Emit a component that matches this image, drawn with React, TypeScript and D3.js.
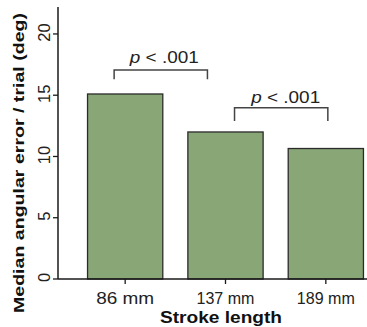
import React from "react";
import * as d3 from "d3";

const categories = ["86 mm", "137 mm", "189 mm"];
const values = [15.1, 12.0, 10.65];
const yTicks = [0, 5, 10, 15, 20];
const brackets = [
  { x1: -0.11, x2: 0.82, top: 17.05, bottom: 16.3, label: " < .001", textY: 17.6, textX: 0.39 },
  { x1: 1.09, x2: 2.02, top: 13.98, bottom: 12.9, label: " < .001", textY: 14.4, textX: 1.6 },
];
const xTitle = "Stroke length";
const yTitle = "Median angular error / trial (deg)";

const W = 367;
const H = 327;
const FONT = "'Liberation Sans', Arial, Helvetica, sans-serif";

export default function App() {
  const x = d3
    .scaleBand<string>()
    .domain(categories)
    .range([75, 376])
    .paddingInner(0.25)
    .paddingOuter(0.125);
  const y = d3.scaleLinear().domain([0, 22.2]).range([279, 7]);
  const step = x.step();
  const center0 = (x(categories[0]) as number) + x.bandwidth() / 2;
  const xi = d3.scaleLinear().domain([0, 1]).range([center0, center0 + step]);
  const axisLeft = 58;

  return (
    <svg
      width={W}
      height={H}
      style={{ position: "absolute", left: 0, top: 0, background: "#fff" }}
      fontFamily={FONT}
    >
      {/* bars */}
      {categories.map((c, i) => (
        <rect
          key={c}
          x={x(c)}
          y={y(values[i])}
          width={x.bandwidth()}
          height={y(0) - y(values[i])}
          fill="#89a676"
          stroke="#2b2b2b"
          strokeWidth={1.3}
        />
      ))}
      {/* axes */}
      <line x1={axisLeft} x2={W} y1={y(0)} y2={y(0)} stroke="#1a1a1a" strokeWidth={1.5} />
      <line x1={axisLeft} x2={axisLeft} y1={y.range()[1]} y2={y(0)} stroke="#1a1a1a" strokeWidth={1.5} />
      {yTicks.map((t) => (
        <g key={t}>
          <line x1={axisLeft - 5} x2={axisLeft} y1={y(t)} y2={y(t)} stroke="#1a1a1a" strokeWidth={1.3} />
          <text
            transform={`translate(50,${y(t) - 1.5}) rotate(-90)`}
            textAnchor="middle"
            fontSize={16.5}
            fill="#222"
          >
            {t}
          </text>
        </g>
      ))}
      {categories.map((c) => {
        const cx = (x(c) as number) + x.bandwidth() / 2;
        return (
          <g key={c}>
            <line x1={cx} x2={cx} y1={y(0)} y2={y(0) + 5} stroke="#1a1a1a" strokeWidth={1.3} />
            <text
              x={cx}
              y={303.5}
              textAnchor="middle"
              fontSize={17}
              fill="#222"
              textLength={58}
              lengthAdjust="spacingAndGlyphs"
            >
              {c}
            </text>
          </g>
        );
      })}
      <text
        x={221}
        y={323.3}
        textAnchor="middle"
        fontSize={16}
        fontWeight="bold"
        fill="#111"
        textLength={122}
        lengthAdjust="spacingAndGlyphs"
      >
        {xTitle}
      </text>
      <text
        transform={`translate(24,163) rotate(-90)`}
        textAnchor="middle"
        fontSize={15.5}
        fontWeight="bold"
        fill="#111"
        textLength={300}
        lengthAdjust="spacingAndGlyphs"
      >
        {yTitle}
      </text>
      {/* significance brackets */}
      {brackets.map((b, i) => (
        <g key={i}>
          <path
            d={`M${xi(b.x1)},${y(b.bottom)}V${y(b.top)}H${xi(b.x2)}V${y(b.bottom)}`}
            fill="none"
            stroke="#444"
            strokeWidth={1.5}
          />
          <text
            x={xi(b.textX)}
            y={y(b.textY)}
            textAnchor="middle"
            fontSize={17}
            fill="#222"
            textLength={69}
            lengthAdjust="spacingAndGlyphs"
          >
            <tspan fontStyle="italic">p</tspan>
            {b.label}
          </text>
        </g>
      ))}
    </svg>
  );
}
